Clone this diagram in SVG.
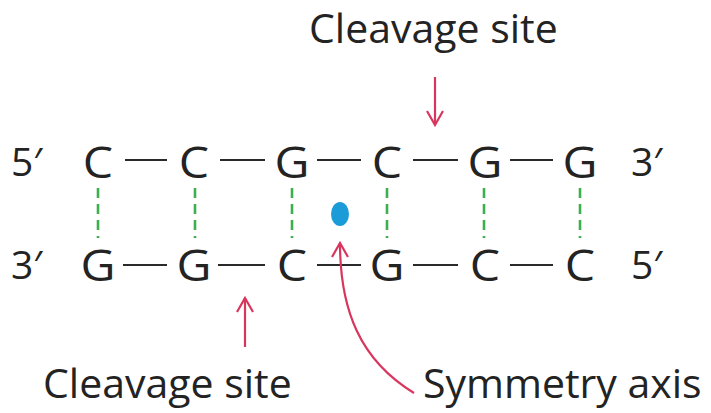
<svg xmlns="http://www.w3.org/2000/svg" width="711" height="413" viewBox="0 0 711 413">
  <defs>
    <style>
      .base { font-family: "Open Sans", "Noto Sans", sans-serif; font-size: 43px; fill: #232323; text-anchor: middle; }
      .end { font-family: "Open Sans", "Noto Sans", sans-serif; font-size: 39px; fill: #232323; }
      .label { font-family: "Open Sans", "Noto Sans", sans-serif; font-size: 41px; fill: #232323; }
      .bond { stroke: #2a2a2a; stroke-width: 2.2; }
      .hbond { stroke: #3fae4f; stroke-width: 2.6; stroke-dasharray: 10 6; }
      .pointer { stroke: #d9365e; stroke-width: 2.2; fill: none; }
    </style>
    <marker id="head" viewBox="0 0 20 20" refX="18" refY="10" markerWidth="20" markerHeight="20" markerUnits="userSpaceOnUse" orient="auto">
      <path d="M4,2 L18,10 L4,18" fill="none" stroke="#d9365e" stroke-width="2.2"/>
    </marker>
  </defs>
  <rect width="711" height="413" fill="#ffffff"/>

  <!-- strand ends -->
  <g id="ends">
    <text class="end" x="11" y="176">5′</text>
    <text class="end" x="631" y="176">3′</text>
    <text class="end" x="11" y="279">3′</text>
    <text class="end" x="631" y="279">5′</text>
  </g>

  <!-- top strand bases (slightly widened glyphs) -->
  <g id="top-strand">
    <text class="base" transform="translate(98 178) scale(1.12 1)">C</text>
    <text class="base" transform="translate(194 178) scale(1.12 1)">C</text>
    <text class="base" transform="translate(292 178) scale(1.12 1)">G</text>
    <text class="base" transform="translate(387 178) scale(1.12 1)">C</text>
    <text class="base" transform="translate(485 178) scale(1.12 1)">G</text>
    <text class="base" transform="translate(580 178) scale(1.12 1)">G</text>
  </g>

  <!-- bottom strand bases -->
  <g id="bottom-strand">
    <text class="base" transform="translate(98 281) scale(1.12 1)">G</text>
    <text class="base" transform="translate(194 281) scale(1.12 1)">G</text>
    <text class="base" transform="translate(292 281) scale(1.12 1)">C</text>
    <text class="base" transform="translate(387 281) scale(1.12 1)">G</text>
    <text class="base" transform="translate(485 281) scale(1.12 1)">C</text>
    <text class="base" transform="translate(580 281) scale(1.12 1)">C</text>
  </g>

  <!-- symmetry axis marker -->
  <g id="axis">
    <ellipse cx="340" cy="214" rx="9" ry="12" fill="#1b9bd8"/>
  </g>

  <!-- labels -->
  <g id="labels">
    <text class="label" x="309" y="43">Cleavage site</text>
    <text class="label" x="43" y="398">Cleavage site</text>
    <text class="label" x="423" y="398">Symmetry axis</text>
  </g>

  <g id="connectors">
    <!-- backbone bonds -->
    <line class="bond" x1="125" y1="160" x2="167" y2="160"/>
    <line class="bond" x1="220" y1="160" x2="265" y2="160"/>
    <line class="bond" x1="317" y1="160" x2="361" y2="160"/>
    <line class="bond" x1="413" y1="160" x2="458" y2="160"/>
    <line class="bond" x1="510" y1="160" x2="553" y2="160"/>
    <line class="bond" x1="123" y1="265" x2="167" y2="265"/>
    <line class="bond" x1="218" y1="265" x2="265" y2="265"/>
    <line class="bond" x1="317" y1="265" x2="361" y2="265"/>
    <line class="bond" x1="413" y1="265" x2="458" y2="265"/>
    <line class="bond" x1="510" y1="265" x2="553" y2="265"/>
    <!-- base pairing -->
    <line class="hbond" x1="98" y1="188" x2="98" y2="238"/>
    <line class="hbond" x1="195" y1="188" x2="195" y2="238"/>
    <line class="hbond" x1="292" y1="188" x2="292" y2="238"/>
    <line class="hbond" x1="387" y1="188" x2="387" y2="238"/>
    <line class="hbond" x1="484" y1="188" x2="484" y2="238"/>
    <line class="hbond" x1="580" y1="188" x2="580" y2="238"/>
    <!-- pointers -->
    <line class="pointer" x1="435" y1="77" x2="435" y2="125" marker-end="url(#head)"/>
    <line class="pointer" x1="245" y1="347" x2="245" y2="298" marker-end="url(#head)"/>
    <path class="pointer" d="M414,393 C360,360 340,310 340,243" marker-end="url(#head)"/>
  </g>
</svg>
